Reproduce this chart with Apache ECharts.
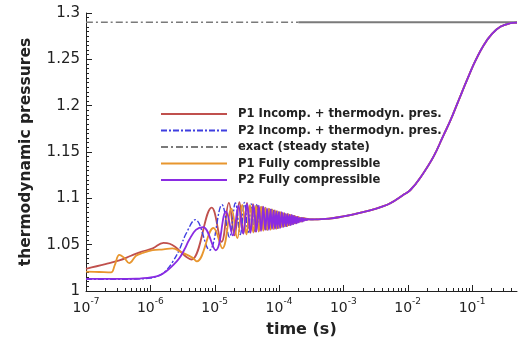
<!DOCTYPE html>
<html>
<head>
<meta charset="utf-8">
<script src="https://cdn.jsdelivr.net/npm/echarts@6/dist/echarts.min.js"></script>
<style>
  html, body { margin: 0; padding: 0; background: #fff; }
  #chart { width: 522px; height: 343px; }
</style>
</head>
<body>
<div id="chart"></div>
<script>
// Thermodynamic pressure history: [time (s), pressure]
const seriesNames = [
  'P1 Incomp. + thermodyn. pres.',
  'P2 Incomp. + thermodyn. pres.',
  'exact (steady state)',
  'P1 Fully compressible',
  'P2 Fully compressible'
];

const p1IncompData = [
  [1e-7,1.024],[2e-7,1.029],[3.3e-7,1.033],[5e-7,1.038],[7e-7,1.042],[1.09e-6,1.046],
  [1.6e-6,1.052],[2.0e-6,1.051],[2.5e-6,1.047],[3.0e-6,1.042],[3.6e-6,1.037],[4.4e-6,1.034],
  [9.0e-6,1.090],[12.8e-6,1.053],[16.6e-6,1.095],[20.4e-6,1.060],[24.2e-6,1.096],[28.0e-6,1.062],
  [31.8e-6,1.095],[35.6e-6,1.063],[39.4e-6,1.094],[43.2e-6,1.064],[47.0e-6,1.092],[50.8e-6,1.065],
  [54.6e-6,1.091],[58.4e-6,1.066],[62.2e-6,1.090],[66.0e-6,1.066],[69.8e-6,1.089],[73.6e-6,1.067],
  [77.4e-6,1.088],[81.2e-6,1.067],[85.0e-6,1.087],[88.8e-6,1.068],[92.6e-6,1.086],[96.4e-6,1.068],
  [100.2e-6,1.085],[106e-6,1.069],[112e-6,1.084],[118e-6,1.070],[124e-6,1.083],[130e-6,1.070],
  [136e-6,1.083],[142e-6,1.071],[148e-6,1.082],[154e-6,1.072],[160e-6,1.081],[166e-6,1.073],
  [172e-6,1.081],[178e-6,1.073],[184e-6,1.080],[190e-6,1.074],[196e-6,1.080],[204e-6,1.075],
  [212e-6,1.079],[220e-6,1.075],[228e-6,1.079],[236e-6,1.076],[244e-6,1.0785],[254e-6,1.0765],
  [264e-6,1.078],[274e-6,1.077],[290e-6,1.0775],[310e-6,1.0772]
];

const p2IncompData = [
  [1e-7,1.0125],[3e-7,1.0125],[6e-7,1.013],[1.0e-6,1.014],[1.4e-6,1.017],[1.75e-6,1.022],
  [2.2e-6,1.031],[2.8e-6,1.044],[3.6e-6,1.062],[5.0e-6,1.077],[8.3e-6,1.044],[13e-6,1.093],
  [17e-6,1.058],[21e-6,1.095],[25e-6,1.061],[29e-6,1.0955],[33e-6,1.063],[37e-6,1.094],
  [41e-6,1.064],[45e-6,1.093],[49e-6,1.065],[53e-6,1.091],[57e-6,1.066],[61e-6,1.090],
  [65e-6,1.066],[69e-6,1.089],[73e-6,1.067],[77e-6,1.088],[81e-6,1.067],[85e-6,1.087],
  [89e-6,1.068],[93e-6,1.086],[97e-6,1.068],[101e-6,1.085],[107e-6,1.069],[113e-6,1.084],
  [119e-6,1.069],[125e-6,1.083],[131e-6,1.070],[137e-6,1.083],[143e-6,1.071],[149e-6,1.082],
  [155e-6,1.072],[161e-6,1.081],[167e-6,1.072],[173e-6,1.081],[179e-6,1.073],[185e-6,1.080],
  [191e-6,1.074],[197e-6,1.080],[205e-6,1.074],[213e-6,1.079],[221e-6,1.075],[229e-6,1.079],
  [237e-6,1.076],[245e-6,1.0785],[255e-6,1.0765],[265e-6,1.078],[275e-6,1.077],[290e-6,1.0775],
  [310e-6,1.0772]
];

const p1FullData = [
  [1e-7,1.021],[1.6e-7,1.0205],[2.45e-7,1.020],[2.8e-7,1.028],[3.3e-7,1.039],[3.9e-7,1.036],
  [4.7e-7,1.030],[6.0e-7,1.038],[7.6e-7,1.041],[1.09e-6,1.044],[1.6e-6,1.045],[2.2e-6,1.046],
  [3.0e-6,1.042],[4.5e-6,1.036],[5.3e-6,1.032],[9.6e-6,1.068],[13.2e-6,1.046],[18.2e-6,1.089],
  [22.5e-6,1.057],[26.8e-6,1.093],[31.1e-6,1.061],[35.4e-6,1.093],[39.7e-6,1.063],[44e-6,1.092],
  [48.3e-6,1.064],[52.6e-6,1.091],[56.9e-6,1.065],[61.2e-6,1.090],[65.5e-6,1.066],[69.8e-6,1.089],
  [74.1e-6,1.066],[78.4e-6,1.088],[82.7e-6,1.067],[87e-6,1.087],[91.3e-6,1.067],[95.6e-6,1.086],
  [99.9e-6,1.068],[105e-6,1.085],[111e-6,1.069],[117e-6,1.084],[123e-6,1.070],[129e-6,1.083],
  [135e-6,1.070],[141e-6,1.083],[147e-6,1.071],[153e-6,1.082],[159e-6,1.072],[165e-6,1.081],
  [171e-6,1.073],[177e-6,1.081],[183e-6,1.073],[189e-6,1.080],[195e-6,1.074],[203e-6,1.080],
  [211e-6,1.075],[219e-6,1.079],[227e-6,1.075],[235e-6,1.079],[243e-6,1.076],[252e-6,1.0785],
  [262e-6,1.0765],[272e-6,1.078],[288e-6,1.0772],[310e-6,1.0772]
];

const p2FullData = [
  [1e-7,1.013],[3e-7,1.013],[6e-7,1.0132],[1.09e-6,1.015],[1.4e-6,1.017],[1.75e-6,1.021],
  [2.2e-6,1.027],[2.8e-6,1.035],[3.4e-6,1.045],[4.0e-6,1.055],[5.1e-6,1.066],[6.6e-6,1.069],
  [10.4e-6,1.044],[15e-6,1.086],[19.2e-6,1.060],[23.4e-6,1.092],[27.6e-6,1.062],[31.8e-6,1.094],
  [36e-6,1.063],[40.2e-6,1.093],[44.4e-6,1.064],[48.6e-6,1.092],[52.8e-6,1.065],[57e-6,1.091],
  [61.2e-6,1.066],[65.4e-6,1.089],[69.6e-6,1.066],[73.8e-6,1.088],[78e-6,1.067],[82.2e-6,1.087],
  [86.4e-6,1.067],[90.6e-6,1.086],[94.8e-6,1.068],[99e-6,1.085],[104e-6,1.068],[110e-6,1.085],
  [116e-6,1.069],[122e-6,1.084],[128e-6,1.070],[134e-6,1.083],[140e-6,1.071],[146e-6,1.082],
  [152e-6,1.071],[158e-6,1.082],[164e-6,1.072],[170e-6,1.081],[176e-6,1.073],[182e-6,1.080],
  [188e-6,1.073],[194e-6,1.080],[201e-6,1.074],[209e-6,1.079],[217e-6,1.075],[225e-6,1.079],
  [233e-6,1.075],[241e-6,1.0785],[250e-6,1.076],[260e-6,1.078],[270e-6,1.0765],[280e-6,1.0778],
  [295e-6,1.0772],[310e-6,1.0772]
];

// Late-time rise, shared by all four computations (curves coincide there)
const lateData = [
  [4e-4,1.0774],[6e-4,1.078],[1e-3,1.0805],[1.5e-3,1.083],[2.6e-3,1.087],[4e-3,1.091],
  [5.35e-3,1.0946],[8.5e-3,1.1036],[1.1e-2,1.109],[1.56e-2,1.122],[2.52e-2,1.145],
  [3.6e-2,1.168],[4.58e-2,1.1835],[6.17e-2,1.2055],[8.33e-2,1.2275],[0.112,1.248],
  [0.151,1.265],[0.204,1.2775],[0.275,1.2852],[0.393,1.289],[0.5,1.2897]
];

// Steady-state value; dash-dot over the early part, continuous later on
const exactDashed = [[1e-7,1.29],[2e-4,1.29]];
const exactSolid = [[2e-4,1.29],[0.5,1.29]];

const xMin = 1e-7, xMax = 0.5;
const yMin = 1, yMax = 1.3, yStep = 0.05;

const FONT = 'DejaVu Sans';
const INK = '#222';

// minor/major tick marks of the logarithmic time axis (1..9 x 10^e)
const xTickMarks = [];
for (let e = -7; e <= -1; e++) {
  for (let k = 1; k <= 9; k++) {
    const v = k * Math.pow(10, e);
    if (v < xMax) xTickMarks.push([v, yMin, k === 1 ? 1 : 0]);
  }
}

function lineSeries(name, data, color, width, dash, z) {
  return {
    name: name,
    type: 'line',
    data: data,
    showSymbol: false,
    symbol: 'none',
    smooth: 0.4,
    z: z,
    lineStyle: { color: color, width: width, type: dash || 'solid' },
    itemStyle: { color: color }
  };
}

const chart = echarts.init(document.getElementById('chart'), null, { renderer: 'canvas' });

chart.setOption({
  animation: false,
  backgroundColor: '#fff',
  grid: { left: 86, right: 5, top: 13, bottom: 52 },
  legend: {
    data: seriesNames,
    orient: 'vertical',
    left: 160,
    top: 107,
    padding: 0,
    itemWidth: 66,
    itemHeight: 14,
    itemGap: 2.5,
    itemStyle: { opacity: 0 },
    textStyle: {
      fontFamily: FONT, fontWeight: 'bold', fontSize: 11.6, color: INK,
      lineHeight: 14,
      padding: [0, 0, 0, 6]
    }
  },
  xAxis: {
    type: 'log',
    logBase: 10,
    min: xMin,
    max: xMax,
    axisLine: { show: true, onZero: false, lineStyle: { color: INK, width: 1 } },
    axisTick: { show: false },
    splitLine: { show: false },
    minorTick: { show: false },
    axisLabel: {
      margin: 6,
      showMaxLabel: false,
      formatter: function (v) {
        const e = Math.round(Math.log10(v));
        if (Math.abs(Math.log10(v) - e) > 1e-6) return '';
        return '{b|10}{s|' + e + '}';
      },
      rich: {
        b: { fontFamily: FONT, fontSize: 14, color: INK, lineHeight: 18, verticalAlign: 'bottom' },
        s: { fontFamily: FONT, fontSize: 9, color: INK, lineHeight: 18, verticalAlign: 'top' }
      }
    },
    name: 'time (s)',
    nameLocation: 'middle',
    nameGap: 31,
    nameTextStyle: { fontFamily: FONT, fontWeight: 'bold', fontSize: 16, color: INK }
  },
  yAxis: {
    type: 'value',
    min: yMin,
    max: yMax,
    interval: yStep,
    axisLine: { show: true, lineStyle: { color: INK, width: 1 } },
    axisTick: { show: true, inside: true, length: 6, lineStyle: { color: INK } },
    minorTick: { show: true, splitNumber: 10, length: 3, lineStyle: { color: INK } },
    splitLine: { show: false },
    axisLabel: { fontFamily: FONT, fontSize: 15, color: INK, margin: 6 },
    name: 'thermodynamic pressures',
    nameLocation: 'middle',
    nameGap: 52,
    nameTextStyle: { fontFamily: FONT, fontWeight: 'bold', fontSize: 15.5, color: INK }
  },
  series: [
    lineSeries(seriesNames[0], p1IncompData.concat(lateData), '#c0504d', 1.8, null, 2),
    lineSeries(seriesNames[1], p2IncompData.concat(lateData), '#3f3fe0', 1.4, [6, 2, 2, 2], 3),
    lineSeries(seriesNames[2], exactDashed, '#7a7a7a', 1.6, [7, 3, 2, 3], 4),
    lineSeries(seriesNames[2], exactSolid, '#7a7a7a', 1.8, null, 4),
    lineSeries(seriesNames[3], p1FullData.concat(lateData), '#e8962e', 1.8, null, 5),
    lineSeries(seriesNames[4], p2FullData.concat(lateData), '#8a2be2', 1.8, null, 6),
    {
      type: 'custom',
      silent: true,
      z: 10,
      data: xTickMarks,
      encode: { x: 0, y: 1 },
      renderItem: function (params, api) {
        const p = api.coord([api.value(0), api.value(1)]);
        const len = api.value(2) ? 6 : 3;
        const x = Math.round(p[0]) + 0.5;
        return {
          type: 'line',
          shape: { x1: x, y1: p[1], x2: x, y2: p[1] - len },
          style: { stroke: INK, lineWidth: 1 }
        };
      }
    }
  ]
});
</script>
</body>
</html>
